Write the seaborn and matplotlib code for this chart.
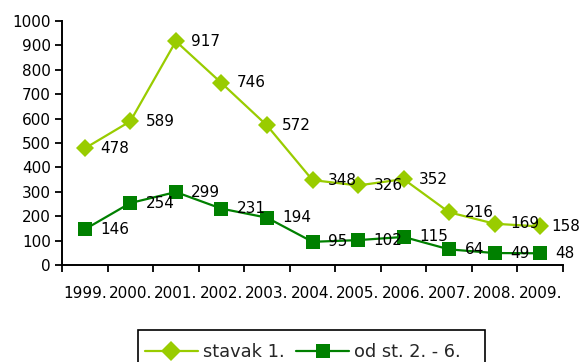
import numpy as np
import pandas as pd
import matplotlib
matplotlib.use("Agg")
import matplotlib.pyplot as plt
from matplotlib.ticker import FixedLocator
from matplotlib.patches import Rectangle
import seaborn as sns

years = ["1999.", "2000.", "2001.", "2002.", "2003.", "2004.",
         "2005.", "2006.", "2007.", "2008.", "2009."]
stavak_1 = [478, 589, 917, 746, 572, 348, 326, 352, 216, 169, 158]
od_st_2_6 = [146, 254, 299, 231, 194, 95, 102, 115, 64, 49, 48]
series_names = ["stavak 1.", "od st. 2. - 6."]

sns.set_theme(style="white")
plt.rcParams["font.family"] = ["DejaVu Sans"]

pos = np.arange(len(years))
df = pd.concat([
    pd.DataFrame({"pos": pos, "value": stavak_1, "series": series_names[0]}),
    pd.DataFrame({"pos": pos, "value": od_st_2_6, "series": series_names[1]}),
])

light = "#99CC00"
dark = "#008000"
palette = {series_names[0]: light, series_names[1]: dark}
markers = {series_names[0]: "D", series_names[1]: "s"}

W, H = 583, 362
fig = plt.figure(figsize=(W / 100, H / 100), dpi=100)
ax = fig.add_axes([62 / W, 1 - 265 / H, (563 - 62) / W, (265 - 21) / H])

sns.lineplot(data=df, x="pos", y="value", hue="series", style="series",
             palette=palette, markers=markers, dashes=False, ax=ax,
             linewidth=1.6, markersize=10, markeredgewidth=0, legend=False)
for line, ms in zip(ax.lines, [9.5, 10]):
    line.set_markersize(ms)

fs = 11
for values in (stavak_1, od_st_2_6):
    for x, v in zip(pos, values):
        # the last label of the upper series is pulled in so it stays on the canvas
        dx = 8 if (values is stavak_1 and x == pos[-1]) else 11
        ax.annotate(str(v), (x, v), xytext=(dx, 0), textcoords="offset points",
                    ha="left", va="center", fontsize=fs, color="black")

ax.set_xlim(-0.5, len(years) - 0.5)
ax.set_ylim(0, 1000)
ax.set_yticks(np.arange(0, 1001, 100))
ax.set_xticks(pos)
ax.set_xticklabels(years)
ax.xaxis.set_minor_locator(FixedLocator(np.arange(-0.5, len(years), 1.0)))
ax.tick_params(axis="x", which="major", length=0, pad=15, labelsize=fs, colors="black")
ax.tick_params(axis="x", which="minor", length=5, width=1.3, direction="out",
               color="black", bottom=True)
ax.tick_params(axis="y", length=5, width=1.3, direction="out", left=True,
               labelsize=fs, colors="black", pad=3)
ax.set_xlabel("")
ax.set_ylabel("")
ax.grid(False)
for side in ("top", "right"):
    ax.spines[side].set_visible(False)
for side in ("left", "bottom"):
    ax.spines[side].set_color("black")
    ax.spines[side].set_linewidth(1.4)

handles = [
    plt.Line2D([], [], color=light, marker="D", markersize=10, linewidth=1.6, markeredgewidth=0),
    plt.Line2D([], [], color=dark, marker="s", markersize=9.5, linewidth=1.6, markeredgewidth=0),
]
leg = fig.legend(handles, series_names, loc="center left",
                 bbox_to_anchor=(145 / W, 1 - 352 / H), ncol=2,
                 fontsize=12.8, frameon=False, handlelength=2.98, handletextpad=0.28,
                 columnspacing=0.67, borderpad=0, borderaxespad=0)

# legend box, running past the lower edge of the canvas
fig.patches.append(Rectangle((138 / W, -20 / H), (485 - 138) / W, (H - 330 + 20) / H,
                             transform=fig.transFigure, fill=False,
                             edgecolor="black", linewidth=1.2, zorder=0))

fig.savefig("out.png", dpi=100)
